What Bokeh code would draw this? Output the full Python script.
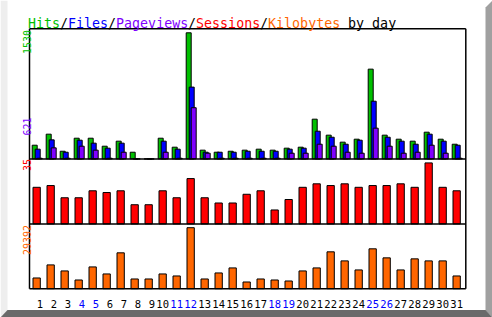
import math
from bokeh.plotting import figure
from bokeh.models import Range1d
from bokeh.core.properties import value
from bokeh.embed import file_html
from bokeh.resources import INLINE

# ---------------- data ----------------
days = list(range(1, 32))
hits = [166, 300, 93, 251, 251, 154, 215, 81, 0, 251, 142, 1530, 106, 81, 93, 106,
        118, 106, 130, 142, 482, 288, 203, 239, 1089, 288, 239, 215, 324, 239, 178]
files = [118, 231, 81, 227, 191, 130, 191, 0, 0, 215, 118, 871, 81, 81, 81, 93,
         93, 93, 118, 130, 336, 263, 178, 227, 700, 263, 215, 178, 300, 215, 166]
pages = [8, 134, 8, 154, 106, 8, 81, 0, 0, 81, 8, 621, 69, 8, 8, 8,
         8, 8, 69, 69, 178, 154, 81, 69, 373, 154, 69, 81, 166, 69, 8]
sessions = [21, 22, 15, 15, 19, 18, 19, 11, 11, 19, 15, 26, 15, 12, 12, 17,
            19, 8, 14, 21, 23, 22, 23, 21, 22, 22, 23, 21, 35, 21, 19]
kbytes = [5168, 11467, 8560, 4199, 10498, 7106, 17281, 4684, 4684, 7106, 6137, 29392,
          4684, 7591, 10013, 3230, 4684, 4199, 3715, 8560, 10013, 17765, 13405, 9044,
          19219, 14858, 9044, 14374, 13405, 13405, 6137]
day_labels = [str(d) for d in days]
weekend_days = [4, 5, 11, 12, 18, 19, 25, 26]
title_text = "Hits/Files/Pageviews/Sessions/Kilobytes by day"
max_labels = [str(max(hits)), str(max(pages)), str(max(sessions)), str(max(kbytes))]

# ---------------- style / layout ----------------
W, H = 492, 317
GREEN, BLUE, PURPLE, RED, ORANGE = "#00c000", "#0000ff", "#8000ff", "#ff0000", "#ff6600"
FONT = value("DejaVu Sans Mono")
DAY_PX = 14.0          # pixels per day
C1 = 36.2              # px centre of day 1
L, R = 29.0, 465.3     # panel frame left/right
T1, B1, B2, B3 = 28.2, 158.4, 223.4, 288.2
HITS_MAX_PX = 126.1
LOW_MAX_PX = 61.0

def vrange(base, upp):
    return Range1d(start=-(H - base) * upp, end=base * upp)

def py(y):  # pixel from top -> pixel range coordinate
    return H - y

p = figure(width=W, height=H, output_backend="svg", toolbar_location=None,
           x_axis_location=None, y_axis_location=None,
           x_range=Range1d(1 - C1 / DAY_PX, 1 + (W - C1) / DAY_PX),
           y_range=Range1d(0, H),
           min_border=0, min_border_left=0, min_border_right=0,
           min_border_top=0, min_border_bottom=0)
p.outline_line_color = None
p.background_fill_color = "white"
p.border_fill_color = "white"
p.grid.visible = False
p.extra_x_ranges = {"px": Range1d(0, W)}
p.extra_y_ranges = {
    "hits": vrange(B1, max(hits) / HITS_MAX_PX),
    "sess": vrange(B2, max(sessions) / LOW_MAX_PX),
    "kb": vrange(B3, max(kbytes) / LOW_MAX_PX),
}

# bevel border
p.patch([0, 7, 7, 0], [py(0), py(0), py(310), py(317)], x_range_name="px",
        fill_color="#eeeeee", line_color=None)
p.patch([485, 492, 492, 485], [py(7), py(0), py(317), py(310)], x_range_name="px",
        fill_color="#a0a0a0", line_color=None)
p.patch([7, 485, 492, 0], [py(309.5), py(309.5), py(317), py(317)], x_range_name="px",
        fill_color="#6a6a6a", line_color=None)

# bars: hits / files / pages
def bars(vals, x0, x1, rng, color):
    p.quad(left=[d + x0 / DAY_PX for d in days], right=[d + x1 / DAY_PX for d in days],
           bottom=[0] * len(days), top=vals, y_range_name=rng,
           fill_color=color, line_color="black", line_width=1)

bars(hits, -4.5, 0.5, "hits", GREEN)
bars(files, -1.5, 3.5, "hits", BLUE)
bars(pages, 0.5, 5.5, "hits", PURPLE)
bars(sessions, -3.7, 3.6, "sess", RED)
bars(kbytes, -3.7, 3.6, "kb", ORANGE)

# panel frame lines
lw = 1.5
p.multi_line(xs=[[L, L], [R, R], [L, R], [L, R], [L, R], [L, R]],
             ys=[[py(T1), py(B3)], [py(T1), py(B3)], [py(T1), py(T1)],
                 [py(B1), py(B1)], [py(B2), py(B2)], [py(B3), py(B3)]],
             x_range_name="px", line_color="black", line_width=lw)

# title
ADV = 8.0
segments = [(0, 4, GREEN), (4, 5, "black"), (5, 10, BLUE), (10, 11, "black"),
            (11, 20, PURPLE), (20, 21, "black"), (21, 29, RED), (29, 30, "black"),
            (30, 39, ORANGE), (40, 46, "black")]
p.text(x=[27.6 + s * ADV for s, e, c in segments], y=[py(23.3)] * len(segments),
       text=[title_text[s:e] for s, e, c in segments],
       text_color=[c for s, e, c in segments], x_range_name="px",
       text_font=FONT, text_font_size="13.3px", text_baseline="alphabetic",
       text_align="left")

# rotated max labels
p.text(x=[26.2] * 4, y=[py(53.6), py(135.0), py(170.5), py(254.5)],
       text=max_labels, text_color=[GREEN, PURPLE, RED, ORANGE],
       angle=math.pi / 2, x_range_name="px",
       text_font=FONT, text_font_size="10px", text_baseline="alphabetic",
       text_align="left")

# day labels
p.text(x=[d + 6.3 / DAY_PX for d in days], y=[py(303.2)] * len(days),
       text=day_labels,
       text_color=[BLUE if d in weekend_days else "black" for d in days],
       text_font=FONT, text_font_size="10.5px", text_baseline="alphabetic",
       text_align="right")

open("out.html", "w").write(file_html(p, INLINE))
